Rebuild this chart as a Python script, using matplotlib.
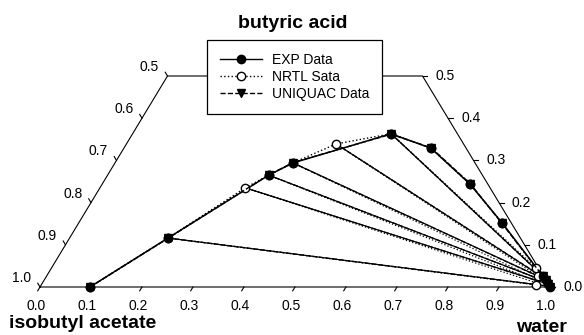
import numpy as np
import matplotlib.pyplot as plt
from matplotlib.lines import Line2D

plt.rcParams['font.family'] = ['Liberation Sans', 'DejaVu Sans']

# binodal curves (water fraction, butyric acid fraction)
exp_w = [0.098, 0.193, 0.316, 0.349, 0.507, 0.602, 0.721, 0.830, 0.973, 0.984, 0.993, 1.000]
exp_a = [0.000, 0.116, 0.265, 0.294, 0.363, 0.329, 0.244, 0.152, 0.026, 0.017, 0.007, 0.000]

nrtl_w = [0.098, 0.193, 0.285, 0.316, 0.349, 0.411, 0.507, 0.602, 0.721, 0.830, 0.950, 0.963, 0.970]
nrtl_a = [0.000, 0.116, 0.235, 0.265, 0.294, 0.339, 0.363, 0.329, 0.244, 0.152, 0.045, 0.026, 0.005]

uniq_w = [0.098, 0.193, 0.316, 0.349, 0.507, 0.602, 0.721, 0.830, 0.974, 0.985, 0.994, 1.000]
uniq_a = [0.000, 0.115, 0.266, 0.295, 0.362, 0.330, 0.245, 0.151, 0.025, 0.016, 0.006, 0.000]

# tie lines: organic end -> aqueous end
tie_org_w = [0.193, 0.285, 0.316, 0.349, 0.411, 0.507]
tie_org_a = [0.116, 0.235, 0.265, 0.294, 0.339, 0.363]
exp_aq_w = [0.997, 0.993, 0.988, 0.984, 0.978, 0.973]
exp_aq_a = [0.002, 0.007, 0.012, 0.017, 0.021, 0.026]
nrtl_aq_w = [0.970, 0.968, 0.967, 0.965, 0.963, 0.950]
nrtl_aq_a = [0.005, 0.010, 0.014, 0.019, 0.026, 0.045]
uniq_aq_w = [0.996, 0.992, 0.988, 0.983, 0.977, 0.974]
uniq_aq_a = [0.002, 0.007, 0.012, 0.017, 0.022, 0.025]

ticks = [0.0, 0.1, 0.2, 0.3, 0.4, 0.5, 0.6, 0.7, 0.8, 0.9, 1.0]
side_ticks = [0.0, 0.1, 0.2, 0.3, 0.4, 0.5]

S3 = np.sqrt(3) / 2


def tern(w, a):
    w = np.asarray(w, dtype=float)
    a = np.asarray(a, dtype=float)
    return w + a / 2, a * S3


fig = plt.figure(figsize=(5.84, 3.35), dpi=100)
ax = fig.add_axes([0, 0, 1, 1])
ax.set_xlim(-40 / 510, 544 / 510)
ax.set_ylim(-48 / 487.3, 287 / 487.3)
ax.axis('off')

# pixel -> data helpers for offsets
px = 1 / 510
py = 1 / 487.3

# frame of the truncated triangle
fx, fy = tern([0, 1, 0.5, 0.0, 0], [0, 0, 0.5, 0.5, 0])
ax.plot(fx, fy, color='black', lw=0.8, zorder=1)

tl = 0.009
# bottom axis (water)
for t in ticks:
    x, y = tern(t, 0)
    ax.plot([x, x - tl * 0.5], [y, y - tl * S3], color='black', lw=0.8)
    ax.text(x - 4 * px, y - 19 * py, f'{t:.1f}', ha='center', va='center', fontsize=10)
# left axis (isobutyl acetate)
for t in side_ticks:
    x, y = tern(0, t)
    ax.plot([x, x - tl * 0.5], [y, y + tl * S3], color='black', lw=0.8)
    ax.text(x - 18 * px, y + 9 * py, f'{1 - t:.1f}', ha='center', va='center', fontsize=10)
# right axis (butyric acid)
for t in side_ticks:
    x, y = tern(1 - t, t)
    ax.plot([x, x + tl], [y, y], color='black', lw=0.8)
    ax.text(x + 13 * px, y, f'{t:.1f}', ha='left', va='center', fontsize=10)

# tie lines
for i in range(len(tie_org_w)):
    x, y = tern([tie_org_w[i], exp_aq_w[i]], [tie_org_a[i], exp_aq_a[i]])
    ax.plot(x, y, color='black', lw=0.9, zorder=2)
    x, y = tern([tie_org_w[i], nrtl_aq_w[i]], [tie_org_a[i], nrtl_aq_a[i]])
    ax.plot(x, y, color='black', lw=0.9, ls=':', zorder=2)
    x, y = tern([tie_org_w[i], uniq_aq_w[i]], [tie_org_a[i], uniq_aq_a[i]])
    ax.plot(x, y, color='black', lw=0.9, ls='--', zorder=2)

ms = 6
# binodal curves
x, y = tern(exp_w, exp_a)
ax.plot(x, y, color='black', lw=1.1, zorder=2)
x, y = tern(nrtl_w, nrtl_a)
ax.plot(x, y, color='black', lw=1.0, ls=':', marker='o', ms=ms,
        mfc='white', mec='black', mew=1.0, zorder=3)
x, y = tern(exp_w, exp_a)
ax.plot(x, y, ls='none', marker='o', ms=ms, color='black', zorder=4)
x, y = tern(uniq_w, uniq_a)
ax.plot(x, y, color='black', lw=1.0, ls='--', marker='v', ms=ms, zorder=5)

# component labels
ax.text(293 * px - 40 * px, (287 - 23) * py, 'butyric acid', ha='center', va='center',
        fontsize=14, fontweight='bold')
ax.text(83 * px - 40 * px, (287 - 323) * py, 'isobutyl acetate', ha='center', va='center',
        fontsize=14, fontweight='bold')
ax.text(541 * px - 40 * px, (287 - 328) * py, 'water', ha='center', va='center',
        fontsize=14, fontweight='bold')

handles = [
    Line2D([], [], color='black', lw=1.0, marker='o', ms=ms),
    Line2D([], [], color='black', lw=1.0, ls=':', marker='o', ms=ms, mfc='white', mec='black'),
    Line2D([], [], color='black', lw=1.0, ls='--', marker='v', ms=ms),
]
leg = fig.legend(handles, ['EXP Data', 'NRTL Sata', 'UNIQUAC Data'],
                 loc='upper left', bbox_to_anchor=(207 / 584, 1 - 40 / 335),
                 borderaxespad=0, fancybox=False, edgecolor='black', framealpha=1,
                 fontsize=10, handlelength=3.0, handletextpad=0.7, labelspacing=0.2,
                 borderpad=0.95)
leg.get_frame().set_linewidth(0.9)
leg.set_zorder(10)

fig.savefig('out.png', dpi=100)
